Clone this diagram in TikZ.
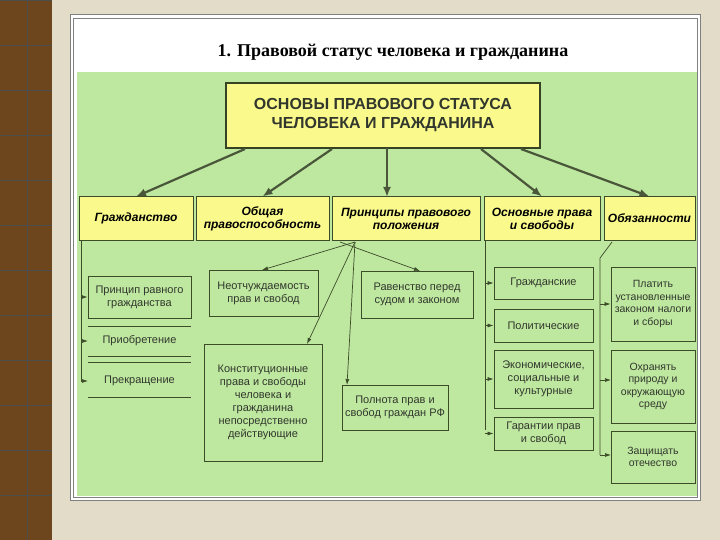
\documentclass[tikz,border=0pt]{standalone}
\usepackage{fontspec}
\setmainfont{Liberation Sans}
\newfontfamily\titlefont{Liberation Serif}
\usetikzlibrary{arrows.meta}
\definecolor{bg}{RGB}{226,220,200}
\definecolor{brown1}{RGB}{110,70,30}
\definecolor{grn}{RGB}{190,232,160}
\definecolor{yel}{RGB}{250,250,140}
\definecolor{edge}{RGB}{60,75,40}
\definecolor{txt}{RGB}{50,55,45}
\begin{document}
\begin{tikzpicture}[x=1pt,y=-1pt,
  head/.style={draw=edge,fill=yel,line width=1pt,align=center,font=\bfseries\itshape\fontsize{12}{13}\selectfont,inner sep=1pt},
  sub/.style={draw=edge,line width=0.8pt,align=center,font=\fontsize{11}{13}\selectfont,text=txt,inner sep=1pt},
  plain/.style={align=center,font=\fontsize{11}{13}\selectfont,text=txt},
  big/.style={-{Latex[length=10pt,width=8pt]},draw=edge!80!gray,line width=2.2pt},
  thin/.style={-{Latex[length=6pt,width=4pt]},draw=edge,line width=0.7pt}]
\useasboundingbox (0,0) rectangle (720,540);
\fill[bg] (0,0) rectangle (720,540);
\fill[brown1] (0,0) rectangle (52,540);
\foreach \y in {0,45,...,540} \draw[black!70,line width=0.8pt] (0,\y) -- (52,\y);
\draw[black!70] (27,0) -- (27,540);
\fill[white] (70,15) rectangle (700,500);
\draw[gray,line width=1pt] (70,15) rectangle (700,500);
\draw[gray] (73,18) rectangle (697,497);
\node[font=\titlefont\bfseries\fontsize{18}{20}\selectfont] (title) at (393,52) {1. Правовой статус человека и гражданина};
\fill[grn] (77,72) rectangle (697,496);
% top
\node[head,draw=edge!90!black,line width=2pt,font=\bfseries\fontsize{16}{19}\selectfont,minimum width=314pt,minimum height=65pt,text=txt] (top) at (383,115.5) {ОСНОВЫ ПРАВОВОГО СТАТУСА\\ЧЕЛОВЕКА И ГРАЖДАНИНА};
% row
\node[head,minimum width=114pt,minimum height=43pt] (g) at (136,218.5) {Гражданство};
\node[head,minimum width=133pt,minimum height=43pt] (o) at (262.5,218.5) {Общая\\правоспособность};
\node[head,minimum width=148pt,minimum height=43pt] (p) at (406,218.5) {Принципы правового\\положения};
\node[head,minimum width=116pt,minimum height=43pt] (r) at (542,218.5) {Основные права\\и свободы};
\node[head,minimum width=91pt,minimum height=43pt] (d) at (649.5,218.5) {Обязанности};
\draw[big] (top.south west)++(20,0) coordinate (t1) -- (g.north);
\draw[big] (top.south west)++(107,0) coordinate (t2) -- (o.north);
\coordinate (t3) at (387,148);
\draw[big] (t3) -- (387,197) coordinate (p3);
\draw[big] (top.south east)++(-60,0) coordinate (t4) -- (r.north);
\draw[big] (top.south east)++(-20,0) coordinate (t5) -- (d.north);
% citizenship
\node[sub,minimum width=103pt,minimum height=42pt] (g1) at (139.5,297) {Принцип равного\\гражданства};
\node[plain] (g2) at (139.5,341) {Приобретение};
\node[plain] (g3) at (139.5,381) {Прекращение};
\draw[edge,line width=0.6pt] (88,326) -- (191,326) (88,356) -- (191,356) (88,362) -- (191,362) (88,397) -- (191,397);
\coordinate (gv) at (81,240);
\draw[edge,line width=0.7pt] (gv) -- (81,381);
\draw[thin] (81,297) -- (g1.west);
\draw[thin] (81,341) -- (88,341);
\draw[thin] (81,381) -- (88,381);
% principles
\node[sub,minimum width=109pt,minimum height=46pt] (p1) at (263.5,293) {Неотчуждаемость\\прав и свобод};
\node[sub,minimum width=118pt,minimum height=117pt] (p2) at (263,402.5) {Конституционные\\права и свободы\\человека и\\гражданина\\непосредственно\\действующие};
\node[sub,minimum width=106pt,minimum height=45pt] (p3b) at (395,407.5) {Полнота прав и\\свобод граждан РФ};
\node[sub,minimum width=112pt,minimum height=47pt] (p4) at (417,294.5) {Равенство перед\\судом и законом};
\coordinate (ps) at (355,242);
\draw[thin] (ps) -- (262,270);
\draw[thin] (ps) -- (307,344);
\draw[thin] (ps) -- (347,385);
\draw[thin] (340,242) -- (420,271);
% rights
\node[sub,minimum width=99pt,minimum height=32pt] (r1) at (543.5,283) {Гражданские};
\node[sub,minimum width=99pt,minimum height=33pt] (r2) at (543.5,325.5) {Политические};
\node[sub,minimum width=99pt,minimum height=58pt] (r3) at (543.5,379) {Экономические,\\социальные и\\культурные};
\node[sub,minimum width=99pt,minimum height=33pt] (r4) at (543.5,433.5) {Гарантии прав\\и свобод};
\coordinate (rv) at (485,240);
\draw[edge,line width=0.7pt] (rv) -- (485,430);
\foreach \n in {r1,r2,r3,r4} \draw[thin] (485,0 |- \n.west) -- (\n.west);
% duties
\node[sub,font=\fontsize{10.5}{12.5}\selectfont,minimum width=84pt,minimum height=74pt] (d1) at (653,304) {Платить\\установленные\\законом налоги\\и сборы};
\node[sub,font=\fontsize{10.5}{12.5}\selectfont,minimum width=84pt,minimum height=73pt] (d2) at (653,386.5) {Охранять\\природу и\\окружающую\\среду};
\node[sub,font=\fontsize{10.5}{12.5}\selectfont,minimum width=84pt,minimum height=52pt] (d3) at (653,457) {Защищать\\отечество};
\coordinate (dv) at (612,242);
\draw[edge,line width=0.7pt] (dv) -- (600,258) -- (600,455);
\draw[thin] (600,304) -- (d1.west);
\draw[thin] (600,380) -- (611,380);
\draw[thin] (600,455) -- (611,455);
\end{tikzpicture}
\end{document}
